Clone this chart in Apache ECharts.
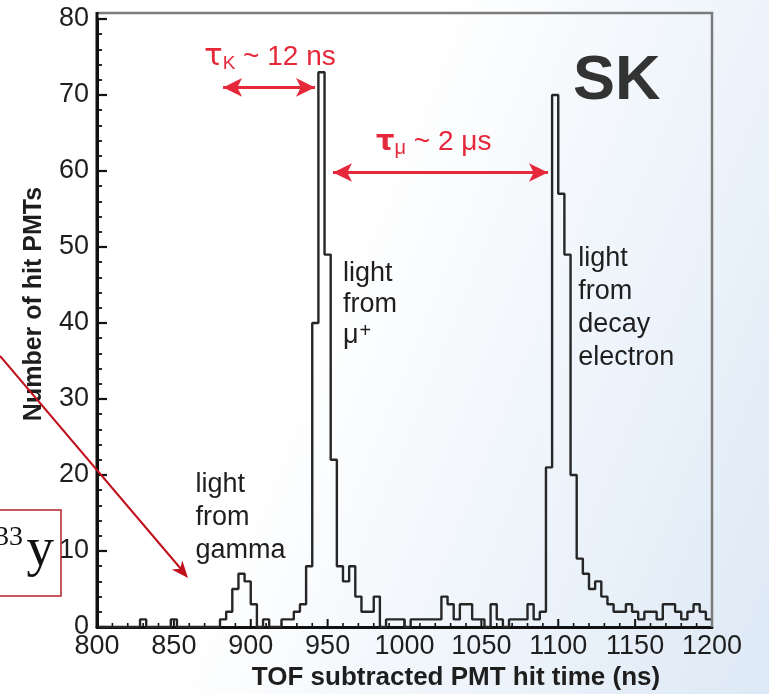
<!DOCTYPE html>
<html>
<head>
<meta charset="utf-8">
<script src="https://cdn.jsdelivr.net/npm/echarts@6/dist/echarts.min.js"></script>
<style>
  html, body { margin: 0; padding: 0; }
  body { background: linear-gradient(112deg, #ffffff 0%, #ffffff 42%, #f1f6fb 66%, #dde9f6 100%); }
  #chart { width: 769px; height: 694px; }
</style>
</head>
<body>
<div id="chart"></div>
<script>
// Hit-time histogram of a K+ -> mu+ -> e+ event, 4 ns bins starting at 800 ns
const binStart = 800;
const binWidth = 4;
const hitCounts = [
  0, 0, 0, 0, 0, 0, 0, 1, 0, 0,        // 800 - 836
  0, 0, 1, 0, 0, 0, 0, 0, 0, 0,        // 840 - 876
  1, 2, 5, 7, 6, 3, 0, 1, 0, 0,        // 880 - 916  (gamma)
  1, 1, 2, 3, 8, 40, 73, 49, 22, 8,    // 920 - 956  (mu+)
  6, 8, 4, 2, 2, 4, 0, 1, 1, 1,        // 960 - 996
  0, 1, 1, 1, 1, 1, 4, 3, 1, 3,        // 1000 - 1036
  3, 1, 1, 0, 3, 1, 0, 1, 1, 1,        // 1040 - 1076
  3, 1, 2, 21, 70, 57, 49, 20, 9, 7,   // 1080 - 1116 (decay electron)
  5, 6, 4, 3, 2, 2, 3, 2, 1, 2,        // 1120 - 1156
  2, 1, 3, 3, 2, 1, 2, 3, 2, 1         // 1160 - 1196
];
const xMin = 800, xMax = 1200;
const xTickStep = 50;
const xMinorStep = 10;
const yTickStep = 10;

// double arrows for the two lifetimes: [x0, x1, y]
const kaonArrow = [882, 941.8, 71];
const muonArrow = [953.5, 1093.3, 59.8];

// text notes: [x, y of first line top] in data units
const gammaNote = { at: [864, 20.9], lines: ['light', 'from', 'gamma'] };
const muonNote = { at: [960, 48.6], lines: ['light', 'from', '{m|μ}{sup|+}'] };
const electronNote = { at: [1113, 50.6], lines: ['light', 'from', 'decay', 'electron'] };

const RED = '#e6283b';
const DARKRED = '#c0101c';
const INK = '#1e1e1e';
const SANS = '"Liberation Sans", Arial, Helvetica, sans-serif';
const SERIF = '"Liberation Serif", "Times New Roman", serif';

// step outline: left edge of each bin, plus closing point at the last right edge
const stepPoints = hitCounts.map((c, i) => [binStart + i * binWidth, c]);
stepPoints.push([binStart + hitCounts.length * binWidth, hitCounts[hitCounts.length - 1]]);

// bottom-axis tick positions (major every 50 ns, minor every 10 ns), drawn pointing up
const xTickValues = [];
for (let v = xMin; v <= xMax; v += xMinorStep) xTickValues.push([v, 0]);

const chart = echarts.init(document.getElementById('chart'), null, { renderer: 'canvas' });

chart.setOption({
  animation: false,
  backgroundColor: 'transparent',
  grid: { left: 97, right: 57, top: 19, bottom: 67, show: false },
  xAxis: {
    type: 'value', min: xMin, max: xMax, interval: xTickStep,
    axisLine: { show: true, onZero: false, lineStyle: { color: '#111', width: 3 } },
    axisTick: { show: false },
    minorTick: { show: false },
    axisLabel: { color: INK, fontSize: 27, fontFamily: SANS, margin: 6, formatter: v => String(v) },
    splitLine: { show: false }
  },
  yAxis: {
    type: 'value', min: 0, max: 80, interval: yTickStep,
    axisLine: { show: true, onZero: false, lineStyle: { color: '#111', width: 3 } },
    axisTick: { show: true, inside: true, length: 10, lineStyle: { color: '#111', width: 2.2 } },
    minorTick: { show: true, splitNumber: 5, length: 5, lineStyle: { color: '#111', width: 1.8 } },
    axisLabel: { color: INK, fontSize: 27, fontFamily: SANS, margin: 8, formatter: v => String(v) },
    splitLine: { show: false }
  },
  series: [{
    type: 'line',
    step: 'end',
    data: stepPoints,
    symbol: 'none',
    silent: true,
    lineStyle: { color: '#262626', width: 2.4 },
    markLine: {
      silent: true,
      animation: false,
      symbol: ['arrow', 'arrow'],
      symbolSize: [14, 19],
      label: { show: false },
      lineStyle: { color: RED, width: 3, type: 'solid' },
      emphasis: { disabled: true },
      data: [
        [{ coord: [kaonArrow[0], kaonArrow[2]] }, { coord: [kaonArrow[1], kaonArrow[2]] }],
        [{ coord: [muonArrow[0], muonArrow[2]] }, { coord: [muonArrow[1], muonArrow[2]] }]
      ]
    }
  }, {
    // inward ticks along the time axis
    type: 'custom',
    silent: true,
    z: 3,
    data: xTickValues,
    renderItem: (params, api) => {
      const v = api.value(0);
      const p = api.coord([v, 0]);
      const major = (v - xMin) % xTickStep === 0;
      const len = major ? 8 : 4;
      return {
        type: 'line',
        shape: { x1: p[0], y1: p[1], x2: p[0], y2: p[1] - len },
        style: { stroke: '#111', lineWidth: major ? 2 : 1.6 }
      };
    }
  }]
});

const toPx = (x, y) => chart.convertToPixel({ xAxisIndex: 0, yAxisIndex: 0 }, [x, y]);
const [xL, yB] = toPx(xMin, 0);
const [xR, yT] = toPx(xMax, 80.8);

function note(n, lh) {
  const [x, y] = toPx(n.at[0], n.at[1]);
  return {
    type: 'text', x: x, y: y, z: 20,
    style: {
      text: n.lines.join('\n'),
      fill: INK, fontSize: 27, fontFamily: SANS, lineHeight: lh,
      align: 'left', textAlign: 'left', verticalAlign: 'top', textVerticalAlign: 'top',
      rich: {
        m: { fontSize: 27, fontFamily: SANS, fill: INK, lineHeight: lh },
        sup: { fontSize: 20, fontFamily: SANS, fill: INK, verticalAlign: 'top', lineHeight: lh, padding: [2, 0, 0, 1] }
      }
    }
  };
}

chart.setOption({
  graphic: [
    // plot frame: grey top and right edges, black left edge up to the frame top
    { type: 'polyline', z: 5, shape: { points: [[xL, yT], [xR, yT], [xR, yB]] },
      style: { stroke: '#7b7b7b', lineWidth: 2.5, fill: null } },
    { type: 'line', z: 6, shape: { x1: xL, y1: yB + 1, x2: xL, y2: yT - 1 },
      style: { stroke: '#111', lineWidth: 3 } },

    // axis titles
    { type: 'text', x: 34, y: 304, rotation: Math.PI / 2, z: 20,
      style: { text: 'Number of hit PMTs', fill: INK, fontSize: 25, fontWeight: 'bold', fontFamily: SANS,
               align: 'center', textAlign: 'center', verticalAlign: 'middle', textVerticalAlign: 'middle' } },
    { type: 'text', x: 456, y: 678, z: 20,
      style: { text: 'TOF subtracted PMT hit time (ns)', fill: INK, fontSize: 26, fontWeight: 'bold', fontFamily: SANS,
               align: 'center', textAlign: 'center', verticalAlign: 'middle', textVerticalAlign: 'middle' } },

    // detector tag
    { type: 'text', x: 573, y: 82, z: 20,
      style: { text: 'SK', fill: '#333', fontSize: 63, fontWeight: 'bold', fontFamily: SANS,
               align: 'left', textAlign: 'left', verticalAlign: 'middle', textVerticalAlign: 'middle' } },

    // lifetime labels
    { type: 'text', x: 204, y: 57, z: 20,
      style: {
        text: '{g|τ}{s|K}{t| ~ 12 ns}',
        align: 'left', textAlign: 'left', verticalAlign: 'middle', textVerticalAlign: 'middle',
        rich: {
          g: { fontSize: 31, fontFamily: '"DejaVu Sans", sans-serif', fill: RED, lineHeight: 32, verticalAlign: 'middle' },
          t: { fontSize: 28, fontFamily: SANS, fill: RED, lineHeight: 32, verticalAlign: 'middle' },
          s: { fontSize: 19, fontFamily: SANS, fill: RED, lineHeight: 32, verticalAlign: 'bottom' }
        }
      } },
    { type: 'text', x: 376, y: 142, z: 20,
      style: {
        text: '{g|τ}{s|μ}{t| ~ 2 μs}',
        align: 'left', textAlign: 'left', verticalAlign: 'middle', textVerticalAlign: 'middle',
        rich: {
          g: { fontSize: 29, fontFamily: '"DejaVu Sans", sans-serif', fontWeight: 'bold', fill: RED, lineHeight: 32, verticalAlign: 'middle' },
          t: { fontSize: 28, fontFamily: SANS, fill: RED, lineHeight: 32, verticalAlign: 'middle' },
          s: { fontSize: 20, fontFamily: SANS, fill: RED, lineHeight: 32, verticalAlign: 'bottom' }
        }
      } },

    // peak notes
    note(gammaNote, 33),
    note(muonNote, 31),
    note(electronNote, 33),

    // boxed note at the left edge
    { type: 'rect', z: 30, shape: { x: -20, y: 510, width: 81, height: 86 },
      style: { fill: '#ffffff', stroke: '#b52025', lineWidth: 1.5 } },
    { type: 'text', x: 23, y: 538, z: 31,
      style: { text: '33', fill: '#111', fontSize: 28, fontFamily: SERIF,
               align: 'right', textAlign: 'right', verticalAlign: 'middle', textVerticalAlign: 'middle' } },
    { type: 'text', x: 54, y: 551, z: 31,
      style: { text: 'y', fill: '#111', fontSize: 55, fontFamily: SERIF,
               align: 'right', textAlign: 'right', verticalAlign: 'middle', textVerticalAlign: 'middle' } },

    // pointer arrow
    { type: 'line', z: 40, shape: { x1: 0, y1: 356, x2: 181, y2: 569 },
      style: { stroke: DARKRED, lineWidth: 2 } },
    { type: 'polygon', z: 41,
      shape: { points: [[188, 578], [182.3, 560.5], [180.2, 568.8], [171.7, 569.5]] },
      style: { fill: DARKRED } }
  ]
});
</script>
</body>
</html>
